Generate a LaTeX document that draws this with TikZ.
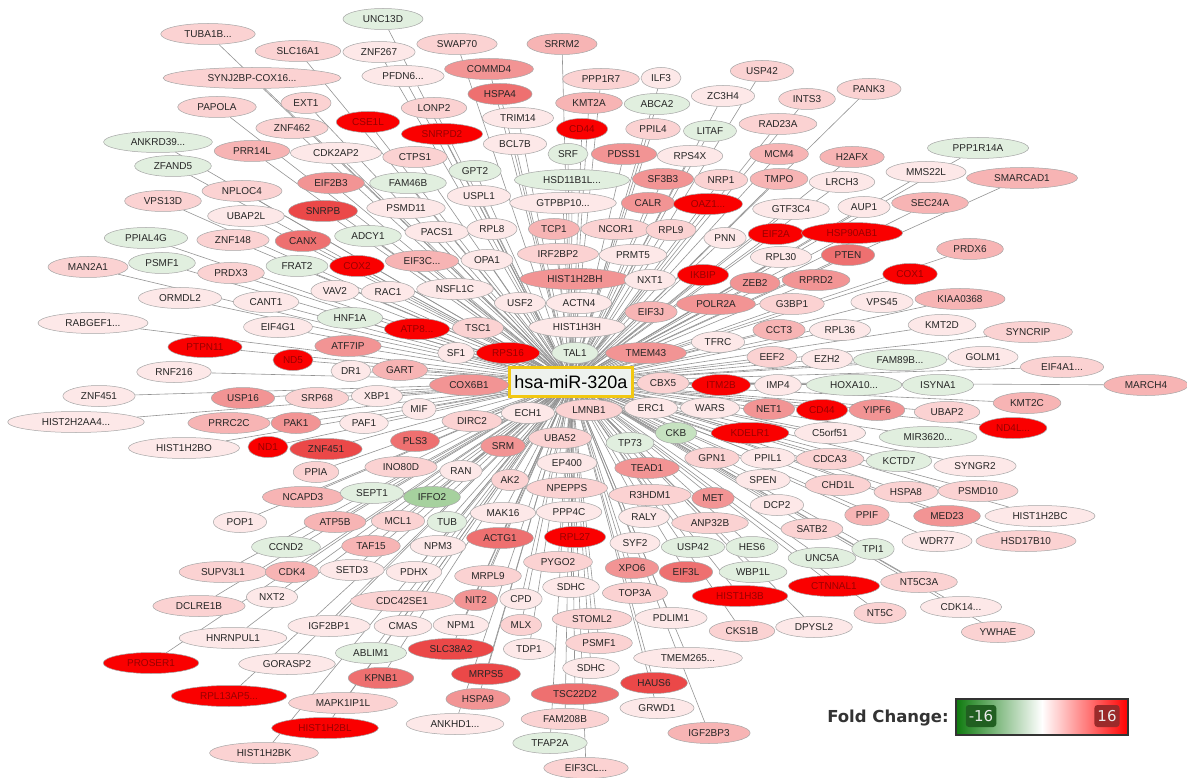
\documentclass[tikz,border=0pt]{standalone}
\usepackage{fontspec}
\setmainfont{Liberation Sans}
\newfontfamily\legendfont{DejaVu Sans}
\usepackage{tikz}
\usetikzlibrary{shapes,backgrounds}

% fold change colours
\definecolor{fcup0}{HTML}{FDE8E8}
\definecolor{fcup1}{HTML}{FBD2D2}
\definecolor{fcup2}{HTML}{F7B4B4}
\definecolor{fcup3}{HTML}{F29494}
\definecolor{fcup4}{HTML}{EE7070}
\definecolor{fcup5}{HTML}{EB4848}
\definecolor{fcup6}{HTML}{FA0000}
\definecolor{fcdn1}{HTML}{E1EFDF}
\definecolor{fcdn2}{HTML}{C6E2C0}
\definecolor{fcdn3}{HTML}{A6D19E}
\definecolor{mirgold}{HTML}{F2C811}
\definecolor{mirfill}{HTML}{EEF2EE}
\definecolor{barneg}{HTML}{0E7A0E}
\definecolor{tagneg}{HTML}{215F21}
\definecolor{tagpos}{HTML}{9A2A2A}

\newlength\genew
\font\genefont="Liberation Sans" at 10pt
\gdef\genelist{}
% gene node: ellipse twice as wide as its label, name kept for the links
\newcommand\gene[4]{%
  \settowidth\genew{\genefont #4}%
  \node[gene, #1, minimum width=2\genew] (#2) at (#3) {#4};
  \xdef\genelist{\ifx\genelist\empty\else\genelist,\fi#2}}

\begin{document}
\begin{tikzpicture}[x=1pt, y=-1pt,
    gene/.style={ellipse, draw=black!35, line width=0.5pt, inner sep=0pt, minimum height=21pt, font=\genefont, text=black!85},
    up0/.style={fill=fcup0},
    up1/.style={fill=fcup1},
    up2/.style={fill=fcup2},
    up3/.style={fill=fcup3},
    up4/.style={fill=fcup4},
    up5/.style={fill=fcup5},
    up6/.style={fill=fcup6, text=red!60!black},
    dn1/.style={fill=fcdn1},
    dn2/.style={fill=fcdn2},
    dn3/.style={fill=fcdn3},
    link/.style={draw=black!42, line width=0.6pt},
    mirbox/.style={draw=mirgold, line width=3pt, fill=mirfill, minimum width=123pt, minimum height=29pt, inner sep=0pt, font=\fontsize{18}{20}\selectfont},
    fctag/.style={rounded corners=3pt, minimum height=22pt, inner xsep=3pt, font=\legendfont\fontsize{15}{16}\selectfont, text=black!8},
]
    \useasboundingbox (0,0) rectangle (1187,778);

    \node[mirbox] (mir) at (571,382) {hsa-miR-320a};

    % upper left
    \gene{up1}{tuba1b}{208,34}{TUBA1B...}
    \gene{up1}{slc16a1}{298,51}{SLC16A1}
    \gene{up1}{synj2bp}{252,78}{SYNJ2BP-COX16...}
    \gene{up1}{papola}{217,107}{PAPOLA}
    \gene{dn1}{ankrd39}{158,142}{ANKRD39...}
    \gene{up2}{prr14l}{252,151}{PRR14L}
    \gene{dn1}{zfand5}{173,166}{ZFAND5}
    \gene{up1}{nploc4}{242,191}{NPLOC4}
    \gene{up1}{vps13d}{163,201}{VPS13D}
    \gene{up0}{ubap2l}{246,216}{UBAP2L}
    \gene{dn1}{ppial4g}{146,238}{PPIAL4G}
    \gene{up1}{znf148}{233,240}{ZNF148}
    \gene{up1}{ext1}{306,103}{EXT1}
    \gene{up1}{znf462}{292,128}{ZNF462}
    \gene{up0}{cdk2ap2}{336,153}{CDK2AP2}
    \gene{up4}{canx}{303,241}{CANX}

    % upper middle
    \gene{dn1}{unc13d}{383,19}{UNC13D}
    \gene{up0}{znf267}{379,52}{ZNF267}
    \gene{up1}{swap70}{457,44}{SWAP70}
    \gene{up2}{srrm2}{562,44}{SRRM2}
    \gene{up0}{pfdn6}{403,76}{PFDN6...}
    \gene{up3}{commd4}{489,69}{COMMD4}
    \gene{up1}{lonp2}{434,108}{LONP2}
    \gene{up4}{hspa4}{500,94}{HSPA4}
    \gene{up0}{trim14}{518,118}{TRIM14}
    \gene{up6}{cse1l}{368,122}{CSE1L}
    \gene{up6}{snrpd2}{442,134}{SNRPD2}
    \gene{up0}{bcl7b}{515,144}{BCL7B}
    \gene{dn1}{srf}{568,154}{SRF}
    \gene{up1}{ctps1}{415,157}{CTPS1}
    \gene{dn1}{gpt2}{475,171}{GPT2}
    \gene{dn1}{hsd11b1l}{572,180}{HSD11B1L...}
    \gene{up3}{eif2b3}{331,183}{EIF2B3}
    \gene{dn1}{fam46b}{408,183}{FAM46B}
    \gene{up0}{uspl1}{479,196}{USPL1}
    \gene{up0}{gtpbp10}{563,203}{GTPBP10...}
    \gene{up5}{snrpb}{323,211}{SNRPB}
    \gene{up0}{psmd11}{406,208}{PSMD11}
    \gene{dn1}{adcy1}{368,236}{ADCY1}
    \gene{up0}{pacs1}{437,232}{PACS1}
    \gene{up0}{rpl8}{492,229}{RPL8}
    \gene{up2}{tcp1}{554,229}{TCP1}
    \gene{up2}{eif3c}{422,261}{EIF3C...}
    \gene{up0}{opa1}{487,260}{OPA1}
    \gene{up1}{irf2bp2}{558,254}{IRF2BP2}

    % upper right
    \gene{up1}{ppp1r7}{601,79}{PPP1R7}
    \gene{up0}{ilf3}{661,78}{ILF3}
    \gene{up1}{usp42a}{762,71}{USP42}
    \gene{up0}{zc3h4}{723,96}{ZC3H4}
    \gene{up2}{kmt2a}{589,103}{KMT2A}
    \gene{dn1}{abca2}{657,104}{ABCA2}
    \gene{up1}{ints3}{807,99}{INTS3}
    \gene{up1}{pank3}{869,89}{PANK3}
    \gene{up6}{cd44a}{582,129}{CD44}
    \gene{up1}{ppil4}{653,129}{PPIL4}
    \gene{dn1}{litaf}{710,131}{LITAF}
    \gene{up1}{rad23a}{778,124}{RAD23A}
    \gene{up3}{pdss1}{624,154}{PDSS1}
    \gene{up0}{rps4x}{690,156}{RPS4X}
    \gene{up2}{mcm4}{779,154}{MCM4}
    \gene{up2}{h2afx}{852,157}{H2AFX}
    \gene{up3}{sf3b3}{663,179}{SF3B3}
    \gene{up1}{nrp1}{721,180}{NRP1}
    \gene{up2}{tmpo}{779,179}{TMPO}
    \gene{up0}{lrch3}{842,182}{LRCH3}
    \gene{up3}{calr}{648,203}{CALR}
    \gene{up6}{oaz1}{708,204}{OAZ1...}
    \gene{up0}{gtf3c4}{791,209}{GTF3C4}
    \gene{up0}{aup1}{864,207}{AUP1}
    \gene{up1}{ncor1}{616,229}{NCOR1}
    \gene{up1}{rpl9}{671,230}{RPL9}
    \gene{up0}{pnn}{725,238}{PNN}
    \gene{up6}{eif2a}{776,234}{EIF2A}
    \gene{up6}{hsp90ab1}{852,233}{HSP90AB1}
    \gene{up0}{prmt5}{633,255}{PRMT5}
    \gene{up0}{rpl30}{781,257}{RPL30}
    \gene{up4}{pten}{848,255}{PTEN}
    \gene{dn1}{ppp1r14a}{978,148}{PPP1R14A}
    \gene{up0}{mms22l}{926,172}{MMS22L}
    \gene{up2}{smarcad1}{1022,178}{SMARCAD1}
    \gene{up2}{sec24a}{930,203}{SEC24A}
    \gene{up2}{prdx6}{970,249}{PRDX6}

    % left
    \gene{up1}{man2a1}{88,267}{MAN2A1}
    \gene{dn1}{psmf1a}{162,263}{PSMF1}
    \gene{up1}{prdx3}{231,273}{PRDX3}
    \gene{dn1}{frat2}{297,266}{FRAT2}
    \gene{up0}{ormdl2}{180,298}{ORMDL2}
    \gene{up0}{cant1}{266,302}{CANT1}
    \gene{up0}{rabgef1}{93,323}{RABGEF1...}
    \gene{up0}{eif4g1}{278,327}{EIF4G1}
    \gene{up6}{ptpn11}{205,347}{PTPN11}
    \gene{up6}{nd5}{293,360}{ND5}
    \gene{up0}{rnf216}{174,372}{RNF216}
    \gene{up0}{znf451a}{99,396}{ZNF451}
    \gene{up3}{usp16}{243,398}{USP16}
    \gene{up0}{hist2h2aa4}{76,422}{HIST2H2AA4...}
    \gene{up2}{prrc2c}{229,423}{PRRC2C}
    \gene{up3}{pak1}{296,423}{PAK1}
    \gene{up0}{hist1h2bo}{184,448}{HIST1H2BO}
    \gene{up6}{nd1}{268,447}{ND1}
    \gene{up5}{znf451b}{326,449}{ZNF451}
    \gene{up2}{ncapd3}{303,497}{NCAPD3}
    \gene{up0}{pop1}{240,522}{POP1}

    % around the centre, left side
    \gene{up6}{cox2}{357,266}{COX2}
    \gene{up0}{vav2}{335,291}{VAV2}
    \gene{up0}{rac1}{388,292}{RAC1}
    \gene{up0}{nsfl1c}{455,289}{NSFL1C}
    \gene{up0}{usf2}{520,303}{USF2}
    \gene{up0}{actn4}{579,303}{ACTN4}
    \gene{up3}{hist1h2bh}{575,279}{HIST1H2BH}
    \gene{dn1}{hnf1a}{350,318}{HNF1A}
    \gene{up6}{atp8}{417,329}{ATP8...}
    \gene{up1}{tsc1}{478,328}{TSC1}
    \gene{up0}{hist1h3h}{577,327}{HIST1H3H}
    \gene{up3}{atf7ip}{348,346}{ATF7IP}
    \gene{up0}{sf1}{456,353}{SF1}
    \gene{up6}{rps16}{508,353}{RPS16}
    \gene{dn1}{tal1}{575,353}{TAL1}
    \gene{up0}{dr1}{351,371}{DR1}
    \gene{up2}{gart}{400,370}{GART}
    \gene{up3}{cox6b1}{469,385}{COX6B1}
    \gene{up1}{srp68}{317,398}{SRP68}
    \gene{up0}{xbp1}{377,396}{XBP1}
    \gene{up0}{mif}{419,409}{MIF}
    \gene{up0}{ech1}{528,413}{ECH1}
    \gene{up1}{lmnb1}{589,410}{LMNB1}
    \gene{up0}{paf1}{364,423}{PAF1}
    \gene{up1}{dirc2}{472,421}{DIRC2}
    \gene{up4}{pls3}{415,441}{PLS3}
    \gene{up3}{srm}{503,446}{SRM}
    \gene{up1}{uba52}{560,438}{UBA52}
    \gene{up1}{ppia}{316,472}{PPIA}
    \gene{up1}{ino80d}{401,467}{INO80D}
    \gene{up0}{ran}{461,471}{RAN}
    \gene{up0}{ep400}{567,463}{EP400}
    \gene{up1}{ak2}{510,480}{AK2}
    \gene{up1}{npepps}{567,488}{NPEPPS}
    \gene{dn1}{sept1}{372,493}{SEPT1}
    \gene{dn3}{iffo2}{432,497}{IFFO2}
    \gene{up0}{mak16}{503,513}{MAK16}
    \gene{up0}{ppp4c}{569,512}{PPP4C}
    \gene{dn1}{tub}{447,522}{TUB}

    % around the centre, right side
    \gene{up0}{nxt1}{650,280}{NXT1}
    \gene{up6}{ikbip}{703,275}{IKBIP}
    \gene{up3}{zeb2}{755,283}{ZEB2}
    \gene{up3}{rprd2}{816,280}{RPRD2}
    \gene{up6}{cox1}{910,274}{COX1}
    \gene{up2}{eif3j}{651,312}{EIF3J}
    \gene{up3}{polr2a}{716,304}{POLR2A}
    \gene{up1}{g3bp1}{792,304}{G3BP1}
    \gene{up0}{vps45}{882,302}{VPS45}
    \gene{up2}{kiaa0368}{960,299}{KIAA0368}
    \gene{up3}{tmem43}{646,353}{TMEM43}
    \gene{up0}{tfrc}{718,342}{TFRC}
    \gene{up2}{cct3}{779,330}{CCT3}
    \gene{up0}{rpl36}{840,330}{RPL36}
    \gene{up1}{eef2}{772,357}{EEF2}
    \gene{up0}{ezh2}{827,359}{EZH2}
    \gene{dn1}{fam89b}{900,360}{FAM89B...}
    \gene{up0}{kmt2d}{942,325}{KMT2D}
    \gene{up1}{syncrip}{1028,332}{SYNCRIP}
    \gene{up0}{golm1}{983,357}{GOLM1}
    \gene{up1}{eif4a1}{1062,367}{EIF4A1...}
    \gene{up1}{cbx5}{663,383}{CBX5}
    \gene{up6}{itm2b}{721,385}{ITM2B}
    \gene{up0}{imp4}{778,385}{IMP4}
    \gene{dn1}{hoxa10}{854,385}{HOXA10...}
    \gene{dn1}{isyna1}{938,385}{ISYNA1}
    \gene{up2}{march4}{1146,385}{MARCH4}
    \gene{up0}{erc1}{651,408}{ERC1}
    \gene{up0}{wars}{710,408}{WARS}
    \gene{up3}{net1}{769,409}{NET1}
    \gene{up6}{cd44b}{822,410}{CD44}
    \gene{up3}{yipf6}{877,410}{YIPF6}
    \gene{up1}{ubap2}{947,412}{UBAP2}
    \gene{up2}{kmt2c}{1027,403}{KMT2C}
    \gene{up6}{nd4l}{1013,428}{ND4L...}
    \gene{dn2}{ckb}{676,433}{CKB}
    \gene{up6}{kdelr1}{750,433}{KDELR1}
    \gene{up0}{c5orf51}{830,433}{C5orf51}
    \gene{dn1}{tp73}{630,443}{TP73}
    \gene{dn1}{mir3620}{928,437}{MIR3620...}
    \gene{up1}{gpn1}{712,458}{GPN1}
    \gene{up0}{ppil1}{768,458}{PPIL1}
    \gene{up1}{cdca3}{830,459}{CDCA3}
    \gene{dn1}{kctd7}{899,461}{KCTD7}
    \gene{up0}{syngr2}{975,466}{SYNGR2}
    \gene{up3}{tead1}{647,468}{TEAD1}
    \gene{up0}{spen}{763,480}{SPEN}
    \gene{up1}{chd1l}{838,485}{CHD1L}
    \gene{up1}{hspa8}{906,492}{HSPA8}
    \gene{up1}{psmd10}{978,491}{PSMD10}
    \gene{up1}{r3hdm1}{650,495}{R3HDM1}
    \gene{up3}{met}{713,498}{MET}
    \gene{up0}{dcp2}{777,505}{DCP2}
    \gene{up2}{ppif}{867,515}{PPIF}
    \gene{up3}{med23}{947,516}{MED23}
    \gene{up0}{hist1h2bc}{1040,516}{HIST1H2BC}

    % lower right
    \gene{up0}{raly}{644,517}{RALY}
    \gene{up1}{anp32b}{710,523}{ANP32B}
    \gene{up1}{satb2}{812,529}{SATB2}
    \gene{up0}{syf2}{635,543}{SYF2}
    \gene{dn1}{usp42b}{693,547}{USP42}
    \gene{dn1}{hes6}{752,547}{HES6}
    \gene{dn1}{unc5a}{822,558}{UNC5A}
    \gene{dn1}{tpi1}{873,549}{TPI1}
    \gene{up0}{wdr77}{937,541}{WDR77}
    \gene{up1}{hsd17b10}{1026,541}{HSD17B10}
    \gene{up3}{xpo6}{632,568}{XPO6}
    \gene{up4}{eif3l}{686,572}{EIF3L}
    \gene{dn1}{wbp1l}{753,572}{WBP1L}
    \gene{up6}{ctnnal1}{834,586}{CTNNAL1}
    \gene{up1}{nt5c3a}{919,582}{NT5C3A}
    \gene{up6}{hist1h3b}{740,596}{HIST1H3B}
    \gene{up1}{top3a}{635,593}{TOP3A}
    \gene{up0}{cdk14}{961,607}{CDK14...}
    \gene{up1}{nt5c}{880,613}{NT5C}
    \gene{up0}{pdlim1}{671,618}{PDLIM1}
    \gene{up1}{cks1b}{742,631}{CKS1B}
    \gene{up0}{dpysl2}{814,627}{DPYSL2}
    \gene{up1}{ywhae}{998,632}{YWHAE}
    \gene{up0}{tmem265}{688,658}{TMEM265...}
    \gene{up5}{haus6}{654,683}{HAUS6}
    \gene{up0}{grwd1}{657,708}{GRWD1}
    \gene{up2}{igf2bp3}{709,733}{IGF2BP3}

    % lower left and bottom
    \gene{up2}{atp5b}{335,522}{ATP5B}
    \gene{up1}{mcl1}{398,521}{MCL1}
    \gene{dn1}{ccnd2}{286,547}{CCND2}
    \gene{up2}{taf15}{371,546}{TAF15}
    \gene{up0}{npm3}{438,546}{NPM3}
    \gene{up4}{actg1}{500,538}{ACTG1}
    \gene{up6}{rpl27}{575,537}{RPL27}
    \gene{up1}{supv3l1}{223,572}{SUPV3L1}
    \gene{up2}{cdk4}{292,572}{CDK4}
    \gene{up0}{setd3}{352,570}{SETD3}
    \gene{up0}{pdhx}{414,572}{PDHX}
    \gene{up1}{pygo2}{558,562}{PYGO2}
    \gene{up1}{mrpl9}{488,576}{MRPL9}
    \gene{up0}{nxt2}{272,597}{NXT2}
    \gene{up1}{dclre1b}{199,606}{DCLRE1B}
    \gene{up1}{cdc42se1}{402,601}{CDC42SE1}
    \gene{up3}{nit2}{476,600}{NIT2}
    \gene{up0}{cpd}{521,599}{CPD}
    \gene{up0}{sdhca}{571,587}{SDHC}
    \gene{up0}{hnrnpul1}{233,638}{HNRNPUL1}
    \gene{up0}{igf2bp1}{329,626}{IGF2BP1}
    \gene{up0}{cmas}{403,626}{CMAS}
    \gene{up0}{npm1}{461,625}{NPM1}
    \gene{up1}{mlx}{521,625}{MLX}
    \gene{up1}{stoml2}{592,619}{STOML2}
    \gene{up0}{tdp1}{529,649}{TDP1}
    \gene{up1}{psmf1b}{599,643}{PSMF1}
    \gene{up6}{proser1}{151,663}{PROSER1}
    \gene{up0}{gorasp2}{287,664}{GORASP2}
    \gene{dn1}{ablim1}{371,653}{ABLIM1}
    \gene{up5}{slc38a2}{451,649}{SLC38A2}
    \gene{up0}{sdhcb}{591,668}{SDHC}
    \gene{up4}{kpnb1}{381,678}{KPNB1}
    \gene{up5}{mrps5}{486,674}{MRPS5}
    \gene{up4}{tsc22d2}{575,694}{TSC22D2}
    \gene{up6}{rpl13ap5}{229,696}{RPL13AP5...}
    \gene{up1}{mapk1ip1l}{343,703}{MAPK1IP1L}
    \gene{up3}{hspa9}{478,699}{HSPA9}
    \gene{up6}{hist1h2bl}{325,728}{HIST1H2BL}
    \gene{up0}{ankhd1}{455,724}{ANKHD1...}
    \gene{up1}{fam208b}{565,719}{FAM208B}
    \gene{up1}{hist1h2bk}{264,753}{HIST1H2BK}
    \gene{dn1}{tfap2a}{550,743}{TFAP2A}
    \gene{up1}{eif3cl}{586,768}{EIF3CL...}

    % every gene is a target of the miRNA
    \begin{scope}[on background layer]
        \fill[white] (0,0) rectangle (1187,778);
        \foreach \g in \genelist
            \draw[link] (mir) -- (\g);
    \end{scope}

    % legend
    \node[font=\legendfont\bfseries\fontsize{16.5}{18}\selectfont, text=black!80] (fclabel) at (888,718) {Fold Change:};
    \node[draw=black!80, line width=1.2pt, minimum width=172pt, minimum height=36pt, inner sep=0pt,
          left color=barneg, right color=red, middle color=white] (fcbar) at (1042,717) {};
    \node[fctag, fill=tagneg] (fcmin) at (981,716) {-16};
    \node[fctag, fill=tagpos] (fcmax) at (1107,716) {16};
\end{tikzpicture}
\end{document}
